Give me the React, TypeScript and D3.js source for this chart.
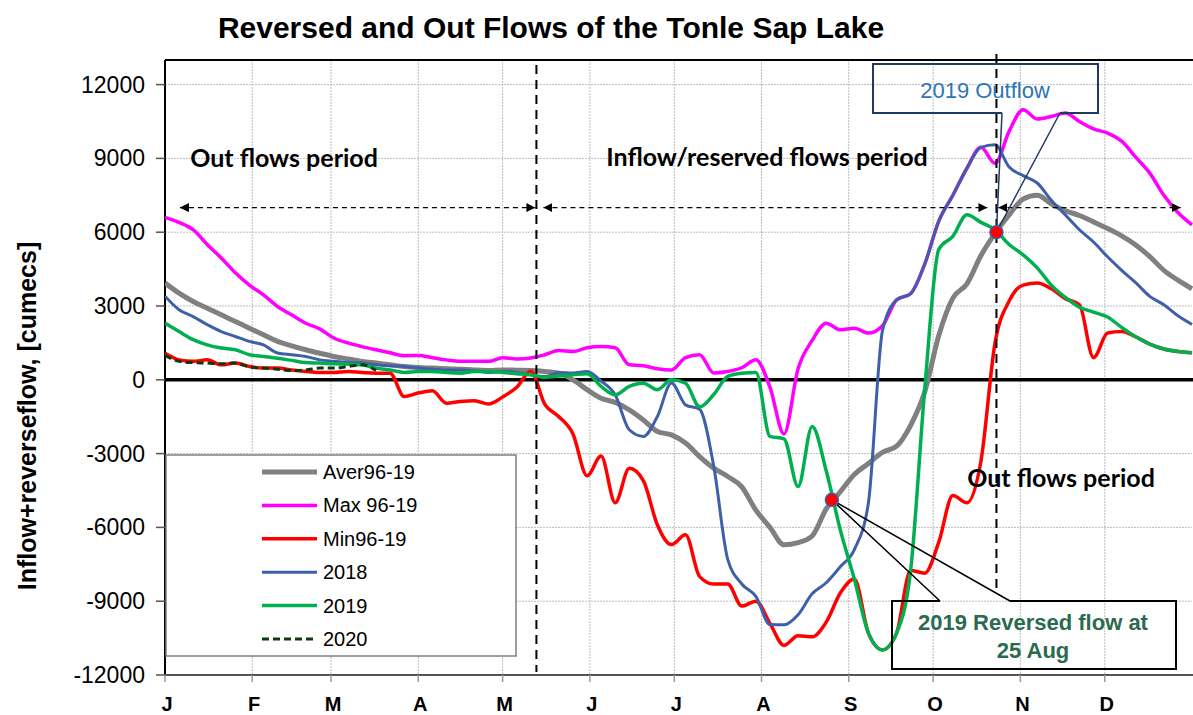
import * as React from 'react';
import * as d3 from 'd3';

// day-of-year samples, every 5 days
const DAYS = d3.range(0, 366, 5);

const MONTH_STARTS = [0, 31, 59, 90, 120, 151, 181, 212, 243, 273, 304, 334];
const MONTH_LABELS = ['J', 'F', 'M', 'A', 'M', 'J', 'J', 'A', 'S', 'O', 'N', 'D'];
const Y_TICKS = [-12000, -9000, -6000, -3000, 0, 3000, 6000, 9000, 12000];

const AVER = [3930, 3520, 3180, 2910, 2640, 2370, 2100, 1830, 1560, 1380, 1220, 1080, 950, 850, 750, 680, 610, 540, 500, 475,
  450, 430, 400, 380, 400, 390, 380, 340, 270, 0, -400, -750, -920, -1220, -1630, -2100, -2240, -2570, -3120, -3590,
  -3930, -4350, -5300, -6000, -6710, -6620, -6350, -5250, -4550, -3850, -3400, -2950, -2700, -1850, -500, 1800, 3320, 3900, 5050, 5950,
  6700, 7350, 7500, 7150, 6870, 6680, 6420, 6150, 5850, 5480, 5010, 4450, 4050, 3700];

const MAX = [6600, 6400, 6100, 5500, 4950, 4350, 3850, 3450, 2980, 2640, 2300, 2070, 1700, 1500, 1350, 1220, 1100, 980, 990, 900,
  810, 750, 750, 750, 900, 850, 890, 1020, 1190, 1150, 1300, 1350, 1300, 610, 570, 450, 400, 900, 1020, 280,
  340, 490, 810, -300, -2200, 450, 1600, 2300, 2030, 2100, 1900, 2200, 3250, 3500, 4700, 6450, 7500, 8600, 9450, 8800,
  10100, 10980, 10600, 10700, 10850, 10500, 10200, 10030, 9700, 9050, 8400, 7500, 6800, 6300];

const MIN = [1080, 810, 750, 810, 610, 680, 540, 475, 475, 400, 340, 300, 300, 340, 300, 270, 270, -680, -540, -450,
  -950, -880, -850, -980, -700, -300, 350, -1000, -1500, -2200, -3900, -3100, -5000, -3600, -4100, -5900, -6700, -6300, -8000, -8300,
  -8300, -9200, -9000, -9900, -10800, -10400, -10450, -9850, -8670, -8100, -10300, -10980, -10300, -7750, -7860, -6600, -4700, -5000, -3300, 1500,
  3200, 3850, 3930, 3700, 3300, 3050, 900, 1900, 1960, 1750, 1450, 1250, 1150, 1100];

const Y2018 = [3400, 2850, 2570, 2240, 1960, 1760, 1560, 1420, 1090, 1020, 950, 810, 750, 700, 680, 610, 570, 540, 475, 440,
  400, 400, 370, 300, 340, 300, 200, 130, 300, 280, 340, -50, -610, -2030, -2300, -1490, -135, -1020, -1200, -3500,
  -7300, -8300, -8800, -9950, -9960, -9550, -8700, -8250, -7600, -6900, -5000, 2000, 3250, 3500, 4700, 6450, 7500, 8600, 9450, 9550,
  8650, 8300, 8000, 7300, 6700, 6100, 5600, 5000, 4450, 3950, 3390, 3050, 2600, 2250];

const Y2019 = [2300, 1960, 1630, 1420, 1290, 1220, 1020, 950, 880, 790, 700, 680, 650, 640, 610, 475, 400, 300, 340, 340,
  300, 270, 340, 340, 300, 250, 200, 100, 150, 200, 250, -270, -610, -270, -140, -400, 0, -140, -1100, -600,
  140, 270, 300, -2300, -2400, -4340, -1900, -3700, -6100, -8100, -10300, -10980, -10300, -7750, -400, 5300, 5830, 6710, 6400, 6100,
  5500, 5080, 4550, 3850, 3350, 2950, 2750, 2550, 2130, 1750, 1450, 1250, 1150, 1100];

const Y2020 = [1000, 750, 700, 680, 650, 680, 520, 475, 430, 380, 400, 475, 475, 540, 610, 380];

const SERIES = [
  { label: 'Aver96-19', values: AVER, color: '#808080', width: 5, dash: '' },
  { label: 'Max 96-19', values: MAX, color: '#FF00FF', width: 3.5, dash: '' },
  { label: 'Min96-19', values: MIN, color: '#FF0000', width: 3.5, dash: '' },
  { label: '2018', values: Y2018, color: '#3F60A8', width: 3, dash: '' },
  { label: '2019', values: Y2019, color: '#00B050', width: 3.5, dash: '' },
  { label: '2020', values: Y2020, color: '#0B3A12', width: 3, dash: '7,4' },
];

// annotation points [day, value]
const REVERSE_START_DAY = 132;
const OUTFLOW_POINT = [295.5, 6000];
const REVERSED_POINT = [237, -4880];

const W = 1193;
const H = 715;
const ARIAL = '"Liberation Sans", Arial, sans-serif';
const CALIBRI = 'Lato, "Open Sans", sans-serif';

export default function App() {
  const x = d3.scaleLinear().domain([0, 365]).range([165, 1192]);
  const y = d3.scaleLinear().domain([-12000, 13000]).range([675, 60]);

  const line = d3.line<[number, number]>()
    .x(d => x(d[0]))
    .y(d => y(d[1]))
    .curve(d3.curveMonotoneX);

  const arrowY = y(7000);
  const ox = x(OUTFLOW_POINT[0]);
  const oy = y(OUTFLOW_POINT[1]);
  const rx = x(REVERSED_POINT[0]);
  const ry = y(REVERSED_POINT[1]);

  return (
    <svg width={W} height={H} style={{ position: 'absolute', left: 0, top: 0, background: '#fff' }}>
      <defs>
        <marker id="ah" viewBox="0 0 10 10" refX="10" refY="5" markerWidth="9" markerHeight="9"
          markerUnits="userSpaceOnUse" orient="auto-start-reverse">
          <path d="M0,0 L10,5 L0,10 z" fill="#000" />
        </marker>
        <clipPath id="plot">
          <rect x={165} y={60} width={1030} height={615} />
        </clipPath>
      </defs>

      <text x={551} y={38} textAnchor="middle" fontFamily={ARIAL} fontWeight="bold" fontSize={30}>
        Reversed and Out Flows of the Tonle Sap Lake
      </text>

      {/* grid */}
      <g stroke="#bdbdbd" strokeWidth={1} strokeDasharray="2,1">
        {Y_TICKS.map(t => <line key={t} x1={165} x2={1192} y1={y(t)} y2={y(t)} />)}
        {MONTH_STARTS.slice(1).map(m => <line key={m} x1={x(m)} x2={x(m)} y1={60} y2={675} />)}
      </g>

      {/* axes */}
      <line x1={165} x2={1193} y1={60} y2={60} stroke="#000" strokeWidth={2} />
      <line x1={165} x2={165} y1={60} y2={676} stroke="#000" strokeWidth={2} />
      <line x1={165} x2={1193} y1={675} y2={675} stroke="#555" strokeWidth={2} />
      {Y_TICKS.map(t => (
        <g key={t}>
          <line x1={156} x2={165} y1={y(t)} y2={y(t)} stroke="#555" strokeWidth={1.5} />
          <text x={145} y={y(t) + 8} textAnchor="end" fontFamily={ARIAL} fontSize={23}>{t}</text>
        </g>
      ))}
      {MONTH_STARTS.map((m, i) => (
        <g key={i}>
          <line x1={x(m)} x2={x(m)} y1={675} y2={682} stroke="#999" strokeWidth={1.5} />
          <text x={x(m) + 2} y={711} textAnchor="middle" fontFamily={ARIAL} fontWeight="bold" fontSize={20}>
            {MONTH_LABELS[i]}
          </text>
        </g>
      ))}
      <text transform="translate(36,416) rotate(-90)" textAnchor="middle" fontFamily={ARIAL} fontWeight="bold" fontSize={25}>
        Inflow+reverseflow, [cumecs]
      </text>

      <line x1={165} x2={1193} y1={y(0)} y2={y(0)} stroke="#000" strokeWidth={3.5} />

      {/* series */}
      <g clipPath="url(#plot)" fill="none">
        {SERIES.map(s => (
          <path key={s.label}
            d={line(s.values.map((v, i) => [DAYS[i], v] as [number, number])) || ''}
            stroke={s.color} strokeWidth={s.width} strokeDasharray={s.dash || undefined}
            strokeLinejoin="round" />
        ))}
      </g>

      {/* period separators */}
      <line x1={x(REVERSE_START_DAY)} x2={x(REVERSE_START_DAY)} y1={65} y2={672}
        stroke="#000" strokeWidth={2} strokeDasharray="9,6" />
      <line x1={ox} x2={ox} y1={54} y2={593} stroke="#000" strokeWidth={2} strokeDasharray="9,6" />

      <g stroke="#000" strokeWidth={1.3} strokeDasharray="5,4">
        <line x1={x(5.3)} x2={x(REVERSE_START_DAY) - 1} y1={arrowY} y2={arrowY}
          markerStart="url(#ah)" markerEnd="url(#ah)" />
        <line x1={x(REVERSE_START_DAY) + 7} x2={ox - 9} y1={arrowY} y2={arrowY}
          markerStart="url(#ah)" markerEnd="url(#ah)" />
        <line x1={ox + 2} x2={x(361)} y1={arrowY} y2={arrowY}
          markerStart="url(#ah)" markerEnd="url(#ah)" />
      </g>

      <g fontFamily={CALIBRI} fontWeight="bold" fontSize={25} fill="#000">
        <text x={284} y={167} textAnchor="middle">Out flows period</text>
        <text x={767} y={166} textAnchor="middle">Inflow/reserved flows period</text>
        <text x={1061} y={487} textAnchor="middle">Out flows period</text>
      </g>

      {/* legend */}
      <rect x={166} y={455} width={350} height={201} fill="#fff" stroke="#7f7f7f" strokeWidth={1.5} />
      {SERIES.map((s, i) => {
        const ly = 472 + i * 33.4;
        return (
          <g key={s.label}>
            <line x1={262} x2={317} y1={ly} y2={ly} stroke={s.color} strokeWidth={s.width}
              strokeDasharray={s.dash || undefined} />
            <text x={323} y={ly + 7} fontFamily={ARIAL} fontSize={20}>{s.label}</text>
          </g>
        );
      })}

      {/* 2019 Outflow callout */}
      <path d={`M1002,113 L873,113 L873,64 L1098,64 L1098,113 L1060,113`} fill="none" stroke="#1F3864" strokeWidth={2} />
      <path d={`M1002,113 L${ox},${oy} L1060,113`} fill="none" stroke="#1F3864" strokeWidth={1.5} />
      <text x={985} y={98} textAnchor="middle" fontFamily={ARIAL} fontSize={22} fill="#2E75B6">2019 Outflow</text>
      <circle cx={ox} cy={oy} r={6.5} fill="#FF0000" stroke="#3F60A8" strokeWidth={1.5} />

      {/* 2019 reversed flow callout */}
      <path d={`M940,601 L892,601 L892,669 L1176,669 L1176,601 L1010,601`} fill="none" stroke="#000" strokeWidth={2} />
      <path d={`M940,601 L${rx},${ry} L1010,601`} fill="none" stroke="#000" strokeWidth={1.5} />
      <g fontFamily={ARIAL} fontWeight="bold" fontSize={22} fill="#2A6A4F" textAnchor="middle">
        <text x={1033} y={630}>2019 Reversed flow at</text>
        <text x={1033} y={658}>25 Aug</text>
      </g>
      <circle cx={rx} cy={ry} r={6.5} fill="#FF0000" stroke="#3F60A8" strokeWidth={1.5} />
    </svg>
  );
}
